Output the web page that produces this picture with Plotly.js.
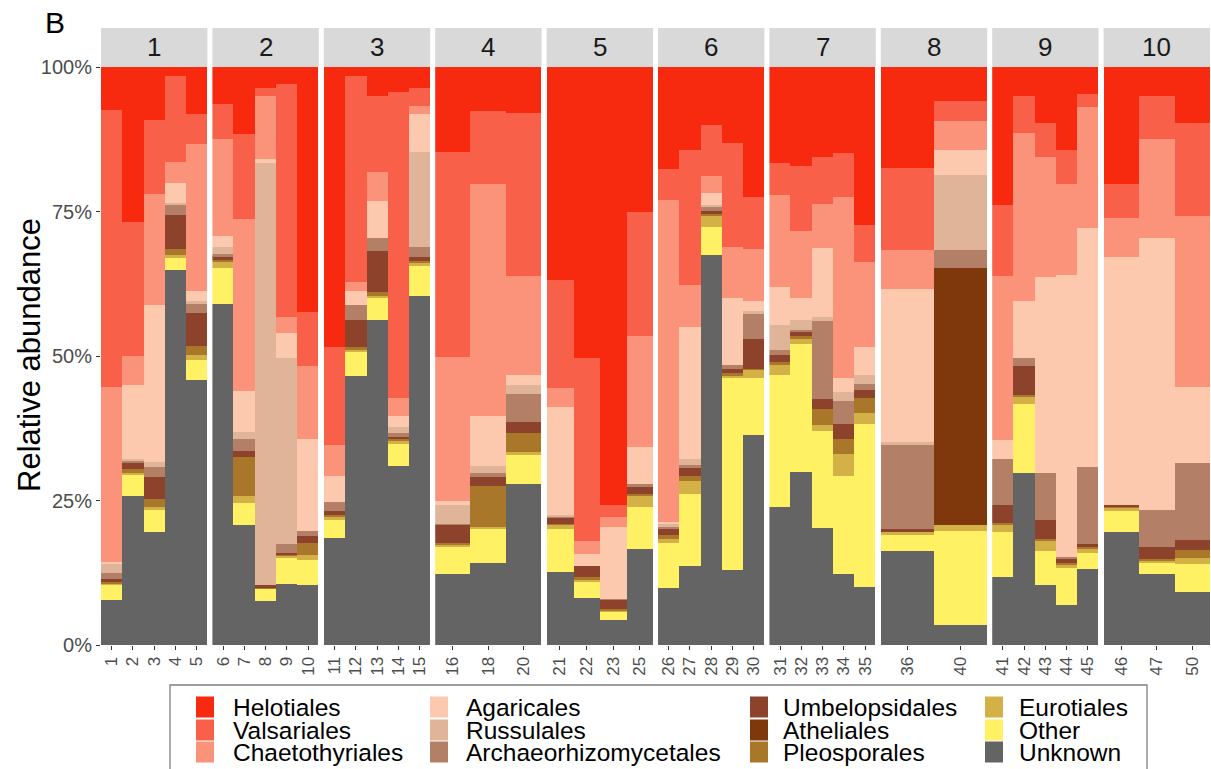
<!DOCTYPE html>
<html><head><meta charset="utf-8">
<script src="https://cdn.plot.ly/plotly-3.0.1.min.js"></script>
<style>html,body{margin:0;padding:0;background:#fff}#chart{width:1211px;height:769px}</style>
</head><body><div id="chart"></div>
<script>
// ---------- data ----------
const facets = ['1','2','3','4','5','6','7','8','9','10'];
const samples = ['1','2','3','4','5','6','7','8','9','10','11','12','13','14','15',
  '16','18','20','21','22','23','25','26','27','28','29','30','31','32','33','34','35',
  '36','40','41','42','43','44','45','46','47','50'];
const sampleFacet = [1,1,1,1,1,2,2,2,2,2,3,3,3,3,3,4,4,4,5,5,5,5,6,6,6,6,6,7,7,7,7,7,8,8,9,9,9,9,9,10,10,10];
const orders = ['Unknown','Other','Eurotiales','Pleosporales','Atheliales','Umbelopsidales',
  'Archaeorhizomycetales','Russulales','Agaricales','Chaetothyriales','Valsariales','Helotiales'];

const unknown = [7.8,25.8,19.5,64.9,45.9, 59.0,20.8,7.6,10.6,10.3, 18.5,46.5,56.3,30.9,60.4, 12.3,14.2,27.8, 12.6,8.1,4.3,16.6, 9.9,13.6,67.4,12.9,36.4, 23.8,30.0,20.2,12.3,10.1, 16.2,3.4, 11.7,29.8,10.4,7.0,13.2, 19.5,12.3,9.1];
const other = [2.7,3.6,3.8,2.0,3.4, 6.2,3.7,2.1,4.4,4.4, 3.2,4.2,3.7,3.8,5.2, 4.6,6.0,5.1, 7.4,2.8,1.5,7.2, 7.7,12.6,5.0,33.3,9.8, 22.9,22.0,16.8,16.9,28.1, 3.0,16.3, 7.8,11.9,5.8,6.3,2.8, 3.7,1.9,4.9];
const eurotiales = [0.2,0.4,0.5,0.5,0.9, 1.0,1.3,0,0.5,0.9, 0.5,0.5,0.4,0.6,0.5, 0.5,0.3,0.5, 0.8,0.5,0.2,2.0, 0.8,2.2,1.8,0.5,1.4, 1.7,1.0,1.0,3.9,1.9, 0.3,1.1, 1.3,1.3,1.8,0.6,0.7, 0.6,0.5,1.0];
const pleosporales = [0.2,0.6,1.4,1.1,1.6, 0.4,6.7,0.1,0.2,2.0, 0.3,0.3,0.6,0.3,0.3, 0.3,7.0,3.3, 0.2,0.3,0.3,0.4, 0.6,0.9,0.4,0.3,0.2, 0.6,0.5,2.8,2.6,2.6, 0,0, 0.3,0.3,0.4,0.3,0.3, 0.2,0.2,1.4];
const atheliales = [0,0,0,0,0, 0,0,0,0,0, 0,0,0,0,0, 0,0,0, 0,0,0,0, 0,0,0,0,0, 0,0,0,0,0, 0,44.5, 0,0,0,0,0, 0,0,0];
const umbelopsidales = [0.5,1.2,3.8,5.9,5.7, 0.7,1.1,0.5,0.2,1.2, 0.6,4.8,7.2,0.4,0.7, 3.1,1.5,1.8, 1.0,1.9,1.5,1.3, 1.2,1.3,0.5,0.8,5.1, 1.2,0.8,1.7,2.5,1.5, 0.5,0, 3.2,5.0,3.3,0.8,0.4, 0.3,2.0,1.8];
const archaeorhizomycetales = [1.0,0.3,1.8,1.8,1.5, 0.3,2.1,0,1.5,1.0, 1.7,2.5,2.2,0.6,1.8, 0.2,0.8,5.0, 0.3,0,0.2,0.3, 0.3,0.5,0.7,0.6,4.4, 0.8,0.2,13.5,4.0,1.0, 14.6,3.0, 7.8,1.3,8.1,0.2,13.4, 0,6.4,13.3];
const russulales = [1.6,0.2,0.8,0.3,0.6, 1.3,1.2,73.1,32.2,0, 0,0,0,1.1,16.4, 3.3,1.1,1.5, 0.2,0,0,0, 0.5,1.0,0.4,0,0.5, 4.3,1.8,0.8,1.5,1.5, 0.5,13.1, 0,0,0,0,0, 0,0,0];
const agaricales = [0.4,12.9,27.2,3.5,1.6, 1.8,7.0,0.7,4.4,15.8, 4.5,2.4,6.4,1.9,6.6, 0.7,8.7,1.7, 18.6,2.1,12.5,6.5, 0.3,23.0,2.0,11.7,1.8, 6.6,3.7,11.9,2.5,4.9, 26.5,4.2, 3.3,10.0,33.8,48.9,41.4, 42.8,47.2,13.2];
const chaetothyriales = [30.3,5.0,19.3,3.5,25.4, 16.8,29.8,10.9,2.7,12.7, 5.3,1.6,5.0,3.1,1.3, 24.8,40.2,17.2, 3.4,2.3,1.7,19.2, 55.7,7.1,3.0,8.8,8.9, 15.9,11.6,7.6,31.3,14.6, 6.7,5.1, 28.5,29.0,20.9,15.6,20.9, 6.7,17.1,29.5];
const valsariales = [47.8,23.2,12.8,14.9,5.3, 6.1,14.7,1.4,40.4,9.3, 16.9,35.6,13.2,52.9,3.2, 35.5,12.6,28.1, 18.7,31.6,2.1,21.5, 5.3,23.4,8.7,18.0,9.0, 5.6,11.2,8.1,7.6,6.5, 14.2,3.5, 12.3,6.4,5.8,5.9,2.3, 6.0,7.4,16.1];
const helotiales = [7.5,26.8,9.1,1.6,8.1, 6.4,11.6,3.6,2.9,42.4, 48.5,1.6,5.0,4.4,3.6, 14.7,7.6,8.0, 36.8,50.4,75.7,25.0, 17.7,14.4,10.1,13.1,22.5, 16.6,17.2,15.6,14.9,27.3, 17.5,5.8, 23.8,5.0,9.7,14.4,4.6, 20.2,5.0,9.7];

const yTickVals = [0,25,50,75,100];
const yTickText = ['0%','25%','50%','75%','100%'];
const yTitle = 'Relative abundance';
const panelLetter = 'B';

// ---------- styles ----------
const seriesValues = {Unknown:unknown, Other:other, Eurotiales:eurotiales, Pleosporales:pleosporales,
  Atheliales:atheliales, Umbelopsidales:umbelopsidales, Archaeorhizomycetales:archaeorhizomycetales,
  Russulales:russulales, Agaricales:agaricales, Chaetothyriales:chaetothyriales,
  Valsariales:valsariales, Helotiales:helotiales};
const colors = {Helotiales:'#F72A10', Valsariales:'#F9604A', Chaetothyriales:'#FA937A',
  Agaricales:'#FCC8AE', Russulales:'#E0B499', Archaeorhizomycetales:'#B37F66',
  Umbelopsidales:'#8D432B', Atheliales:'#7E380B', Pleosporales:'#A8772A',
  Eurotiales:'#D4B147', Other:'#FFF064', Unknown:'#646464'};
// legend grid position [column,row]
const legendCell = {Helotiales:[0,0], Valsariales:[0,1], Chaetothyriales:[0,2],
  Agaricales:[1,0], Russulales:[1,1], Archaeorhizomycetales:[1,2],
  Umbelopsidales:[2,0], Atheliales:[2,1], Pleosporales:[2,2],
  Eurotiales:[3,0], Other:[3,1], Unknown:[3,2]};
const colSwatchCenter = [205, 439, 759, 994];
const colTextStart = [233, 466, 783, 1019];
const rowY = [707, 730, 752];

const W = 1211, H = 769;
const mL = 101, mR = 1, mT = 67, mB = 124;
const plotW = W - mL - mR, plotH = H - mT - mB;
const step = 111.4, panelW = 106.4;
const FONT = 'Liberation Sans, Arial, sans-serif';
const py = p => (H - mB - p) / plotH;     // pixel row -> paper y
const px = p => (p - mL) / plotW;         // pixel col -> paper x

const axisName = i => (i === 0 ? 'x' : 'x' + (i + 1));
const layoutAxisName = i => (i === 0 ? 'xaxis' : 'xaxis' + (i + 1));
const legendName = i => (i === 0 ? 'legend' : 'legend' + (i + 1));

const traces = [];
orders.forEach((ord, oi) => {
  facets.forEach((f, fi) => {
    const xs = [], ys = [];
    samples.forEach((s, si) => {
      if (sampleFacet[si] === fi + 1) { xs.push(s); ys.push(seriesValues[ord][si]); }
    });
    traces.push({
      type: 'bar', x: xs, y: ys, name: ord,
      xaxis: axisName(fi), yaxis: 'y',
      marker: {color: colors[ord], line: {width: 0}},
      legendgroup: ord, legend: legendName(oi), showlegend: fi === 0,
      hovertemplate: ord + ': %{y:.1f}%<extra></extra>'
    });
  });
});

const layout = {
  width: W, height: H,
  margin: {l: mL, r: mR, t: mT, b: mB, autoexpand: false},
  paper_bgcolor: '#fff', plot_bgcolor: '#fff',
  barmode: 'stack', bargap: 0,
  font: {family: FONT, color: '#000'},
  yaxis: {
    anchor: 'x', range: [0, 100], tickvals: yTickVals, ticktext: yTickText,
    ticks: 'outside', ticklen: 4, tickcolor: '#333', tickwidth: 1,
    tickfont: {size: 20, color: '#4D4D4D', family: FONT},
    showgrid: false, zeroline: false, showline: false, fixedrange: true
  },
  shapes: [], annotations: []
};

facets.forEach((f, fi) => {
  const n = sampleFacet.filter(v => v === fi + 1).length;
  const x0 = fi * step / plotW, x1 = (fi * step + panelW) / plotW;
  layout[layoutAxisName(fi)] = {
    type: 'category', domain: [x0, Math.min(1, x1)], anchor: 'y',
    range: [-0.5, n - 0.5], ticks: 'outside', ticklen: 4, tickcolor: '#333', tickwidth: 1,
    tickangle: -90, tickfont: {size: 17, color: '#4D4D4D', family: FONT},
    showgrid: false, zeroline: false, showline: false, fixedrange: true
  };
  const dref = axisName(fi) + ' domain';
  layout.shapes.push({type: 'rect', xref: dref, yref: 'paper', x0: 0, x1: 1,
    y0: 1.0, y1: py(28), fillcolor: '#D9D9D9', line: {width: 0}, layer: 'below'});
  layout.annotations.push({xref: dref, yref: 'paper', x: 0.5, y: py(47),
    text: f, showarrow: false, font: {size: 26, color: '#1A1A1A', family: FONT},
    xanchor: 'center', yanchor: 'middle'});
});

// y-axis title
layout.annotations.push({xref: 'paper', yref: 'paper', x: px(29), y: py(355),
  text: yTitle, textangle: -90, showarrow: false,
  font: {size: 31, color: '#000', family: FONT}, xanchor: 'center', yanchor: 'middle'});

// legend box
layout.shapes.push({type: 'rect', xref: 'paper', yref: 'paper',
  x0: px(170), x1: px(1147), y0: py(685), y1: py(790),
  line: {color: '#7F7F7F', width: 1.3}, fillcolor: 'rgba(0,0,0,0)'});

// panel letter
layout.annotations.push({xref: 'paper', yref: 'paper', x: px(55), y: py(22),
  text: panelLetter, showarrow: false, font: {size: 30, color: '#000', family: FONT},
  xanchor: 'center', yanchor: 'middle'});

// one legend per entry, placed on a 4x3 grid
orders.forEach((ord, oi) => {
  const [c, r] = legendCell[ord];
  const gap = colTextStart[c] - colSwatchCenter[c];
  const itemW = Math.max(30, 2 * gap - 10);
  const left = colTextStart[c] - (itemW + 10);
  layout[legendName(oi)] = {
    xref: 'container', yref: 'container',
    x: left / W, y: 1 - rowY[r] / H, xanchor: 'left', yanchor: 'middle',
    orientation: 'v', itemwidth: itemW, bgcolor: 'rgba(0,0,0,0)', borderwidth: 0,
    font: {size: 24.5, color: '#000', family: FONT}, itemclick: false, itemdoubleclick: false
  };
});

Plotly.newPlot('chart', traces, layout, {displayModeBar: false}).then(gd => {
  // enlarge the legend keys to the reference's key size
  gd.querySelectorAll('.legendpoints path.legendundefined, .legendpoints path').forEach(p => {
    p.setAttribute('d', 'M9,10.5H-9V-10.5H9Z');
  });
});
</script></body></html>
